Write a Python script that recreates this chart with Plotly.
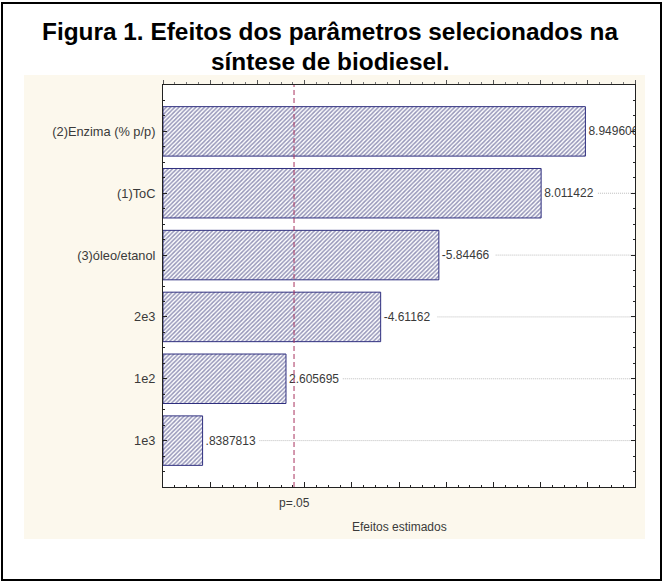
import plotly.graph_objects as go

# ---- data ----
categories = ["(2)Enzima (% p/p)", "(1)ToC", "(3)óleo/etanol", "2e3", "1e2", "1e3"]
effects = [8.949606, 8.011422, -5.84466, -4.61162, 2.605695, 0.8387813]
p_crit = 2.776  # t critical value, p = .05
p_label = "p=.05"
x_title = "Efeitos estimados"
title_lines = ["Figura 1. Efeitos dos parâmetros selecionados na", "síntese de biodiesel."]


def fmt(v):
    s = f"{v:.7g}"
    if s.startswith("0."):
        s = s[1:]
    elif s.startswith("-0."):
        s = "-" + s[2:]
    return s


labels = [fmt(v) for v in effects]
lengths = [abs(v) for v in effects]
ypos = list(range(len(categories)))

W, H = 663, 582
L, R, T, B = 163, 635, 85, 487  # plot frame in px
pw, ph = R - L, B - T
XMAX = 10


def px_x(p):
    return (p - L) / pw


def px_y(p):
    return (B - p) / ph


FONT = "Arial, Liberation Sans, sans-serif"
TXT = "#3a3a3a"

fig = go.Figure()
fig.add_trace(go.Bar(
    x=lengths, y=ypos, orientation="h", width=0.8,
    marker=dict(color="white",
                line=dict(color="#2f2f7f", width=1),
                pattern=dict(shape="/", fgcolor="#2c2c72", bgcolor="white",
                             size=3, solidity=0.5)),
    text=labels, textposition="outside", cliponaxis=True,
    textfont=dict(family=FONT, size=12, color=TXT),
    hoverinfo="skip", showlegend=False,
))
# helper trace for the top axis ticks
fig.add_trace(go.Scatter(x=[0, XMAX], y=[0, 0], xaxis="x2", mode="markers",
                         marker=dict(opacity=0), showlegend=False, hoverinfo="skip"))

shapes = []
# outer box
shapes.append(dict(type="rect", xref="paper", yref="paper",
                   x0=px_x(2), x1=px_x(661), y0=px_y(580), y1=px_y(3),
                   line=dict(color="black", width=2), fillcolor="rgba(0,0,0,0)", layer="above"))
# beige panel
shapes.append(dict(type="rect", xref="paper", yref="paper",
                   x0=px_x(24), x1=px_x(645), y0=px_y(539), y1=px_y(75),
                   line=dict(width=0), fillcolor="#fcf8ed", layer="below"))
shapes.append(dict(type="rect", xref="paper", yref="paper",
                   x0=0, x1=1, y0=0, y1=1,
                   line=dict(width=0), fillcolor="white", layer="below"))
# dotted grid lines after the value labels
unit_px = pw / XMAX
for v, lab, y in zip(lengths, labels, ypos):
    start = v + (len(lab) * 6.6 + 4) / unit_px
    if start < XMAX:
        shapes.append(dict(type="line", xref="x", yref="y", x0=start, x1=XMAX, y0=y, y1=y,
                           line=dict(color="#bdbdbd", width=1, dash="1px,1px"), layer="below"))
# p=.05 line
shapes.append(dict(type="line", xref="x", yref="paper", x0=p_crit, x1=p_crit, y0=0, y1=1,
                   line=dict(color="#a8325e", width=1, dash="5px,3px"), layer="above"))

annotations = [
    dict(text=f"<b>{title_lines[0]}</b>", xref="paper", yref="paper", x=px_x(330), y=px_y(31),
         showarrow=False, xanchor="center", yanchor="middle",
         font=dict(family=FONT, size=24.4, color="black")),
    dict(text=f"<b>{title_lines[1]}</b>", xref="paper", yref="paper", x=px_x(330), y=px_y(61),
         showarrow=False, xanchor="center", yanchor="middle",
         font=dict(family=FONT, size=24.4, color="black")),
    dict(text=p_label, xref="x", yref="paper", x=p_crit, y=px_y(503),
         showarrow=False, xanchor="center", yanchor="middle",
         font=dict(family=FONT, size=12, color=TXT)),
    dict(text=x_title, xref="x", yref="paper", x=XMAX / 2, y=px_y(527),
         showarrow=False, xanchor="center", yanchor="middle",
         font=dict(family=FONT, size=12, color=TXT)),
]

axis_line = "#222222"
fig.update_layout(
    width=W, height=H,
    margin=dict(l=L, r=W - R, t=T, b=H - B, pad=0),
    paper_bgcolor="white", plot_bgcolor="white",
    shapes=shapes, annotations=annotations,
    xaxis=dict(range=[0, XMAX], showgrid=False, zeroline=False, showline=True,
               linecolor=axis_line, linewidth=1, mirror=True,
               ticks="inside", tickmode="linear", tick0=0, dtick=1, ticklen=5,
               tickcolor=axis_line, showticklabels=False,
               minor=dict(ticks="inside", dtick=0.25, ticklen=2, tickcolor=axis_line)),
    xaxis2=dict(range=[0, XMAX], overlaying="x", side="top", showgrid=False,
                zeroline=False, showline=False, ticks="outside", tickmode="linear",
                tick0=0, dtick=1, ticklen=4, tickcolor="#555555", showticklabels=False,
                minor=dict(ticks="outside", dtick=0.25, ticklen=2, tickcolor="#777777")),
    yaxis=dict(range=[len(categories) - 0.25, -0.75], tickvals=ypos, ticktext=categories,
               showgrid=False, zeroline=False, showline=True, linecolor=axis_line,
               linewidth=1, mirror="ticks", ticks="inside", ticklen=4, tickcolor=axis_line,
               ticklabelstandoff=4,
               tickfont=dict(family=FONT, size=12.8, color=TXT),
               minor=dict(ticks="inside", tickmode="linear", tick0=-0.75, dtick=0.25,
                          ticklen=2, tickcolor=axis_line)),
    showlegend=False,
)

fig.write_html("out.html")
